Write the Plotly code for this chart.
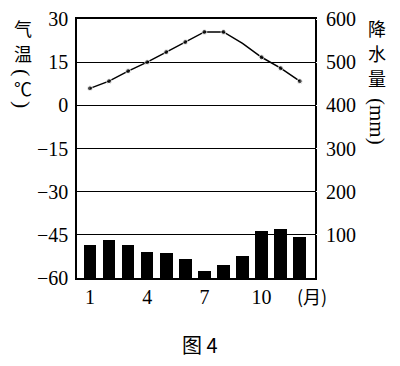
import plotly.graph_objects as go

months = [1, 2, 3, 4, 5, 6, 7, 8, 9, 10, 11, 12]
temperature = [5.9, 8.4, 11.9, 15.0, 18.5, 22.0, 25.5, 25.5, 21.5, 16.7, 12.9, 8.4]
precipitation = [77, 88, 77, 60, 58, 44, 17, 30, 51, 109, 114, 96]
marker_sizes = [5, 5, 5, 5, 5, 5, 5, 5, 0, 5, 5, 5]
left_ticks = [30, 15, 0, -15, -30, -45, -60]
right_ticks = [100, 200, 300, 400, 500, 600]
x_ticks = [1, 4, 7, 10]

SERIF = "'Liberation Serif', 'Times New Roman', 'DejaVu Serif', serif"
CJK = "Noto Sans CJK SC"

# screen offset of the page body
OFF = 8
PL, PR, PT, PB = 77, 315, 19, 278  # plot frame on screen

fig = go.Figure()
fig.add_trace(go.Scatter(
    x=months, y=temperature, mode="lines+markers",
    line=dict(color="black", width=1.5),
    marker=dict(color="black", size=marker_sizes),
    yaxis="y", showlegend=False,
))
fig.add_trace(go.Bar(
    x=months, y=precipitation, width=0.66,
    marker=dict(color="black", line=dict(width=0)),
    yaxis="y2", showlegend=False,
))

fig.update_layout(
    width=400, height=366,
    margin=dict(l=PL - OFF, r=400 - (PR - OFF), t=PT - OFF, b=366 - (PB - OFF)),
    paper_bgcolor="white", plot_bgcolor="white",
    xaxis=dict(
        range=[0.32, 12.8], tickvals=x_ticks, ticktext=[str(v) for v in x_ticks],
        showgrid=False, zeroline=False, showline=True, mirror=True, automargin=False,
        linecolor="black", linewidth=1.5, ticks="",
        tickfont=dict(family=SERIF, size=20, color="black"),
    ),
    yaxis=dict(
        range=[-60, 30], tickvals=left_ticks, automargin=False,
        ticktext=[str(v).replace("-", "\u2212") for v in left_ticks],
        showgrid=True, gridcolor="black", gridwidth=1.2, zeroline=False,
        showline=True, mirror=True, linecolor="black", linewidth=1.5,
        ticks="outside", ticklen=3, tickcolor="white",
        tickfont=dict(family=SERIF, size=20, color="black"),
    ),
    yaxis2=dict(
        range=[0, 600], tickvals=right_ticks, ticktext=[str(v) for v in right_ticks],
        overlaying="y", side="right", showgrid=False, zeroline=False, automargin=False,
        ticks="outside", ticklen=6, tickcolor="white",
        tickfont=dict(family=SERIF, size=20, color="black"),
    ),
    bargap=0,
)


def px(sx, sy):
    return (sx - PL) / (PR - PL), (PB - sy) / (PB - PT)


annotations = [
    dict(text="气", x=23, y=28, a=0, s=18),
    dict(text="温", x=23, y=53, a=0, s=18),
    dict(text="(", x=23, y=72, a=90, s=22),
    dict(text="℃", x=23, y=88, a=0, s=18),
    dict(text=")", x=23, y=104, a=90, s=22),
    dict(text="降", x=377, y=28, a=0, s=18),
    dict(text="水", x=377, y=53, a=0, s=18),
    dict(text="量", x=377, y=78, a=0, s=18),
]
for a in annotations:
    ax, ay = px(a["x"], a["y"])
    fig.add_annotation(
        text=a["text"], xref="paper", yref="paper", x=ax, y=ay, textangle=a["a"],
        xanchor="center", yanchor="middle", showarrow=False,
        font=dict(family=CJK if a["a"] == 0 else SERIF, size=a["s"], color="black"),
    )
ax, ay = px(377, 121)
fig.add_annotation(
    text="(mm)", xref="paper", yref="paper", x=ax, y=ay, textangle=90,
    xanchor="center", yanchor="middle", showarrow=False,
    font=dict(family=SERIF, size=21, color="black"),
)
ax, ay = px(312, 296)
fig.add_annotation(
    text="(月)", xref="paper", yref="paper", x=ax, y=ay,
    xanchor="center", yanchor="middle", showarrow=False,
    font=dict(family=CJK, size=18, color="black"),
)
ax, ay = px(200, 344)
fig.add_annotation(
    text="图 4", xref="paper", yref="paper", x=ax, y=ay,
    xanchor="center", yanchor="middle", showarrow=False,
    font=dict(family=CJK, size=20, color="black"),
)

fig.write_html("out.html")
